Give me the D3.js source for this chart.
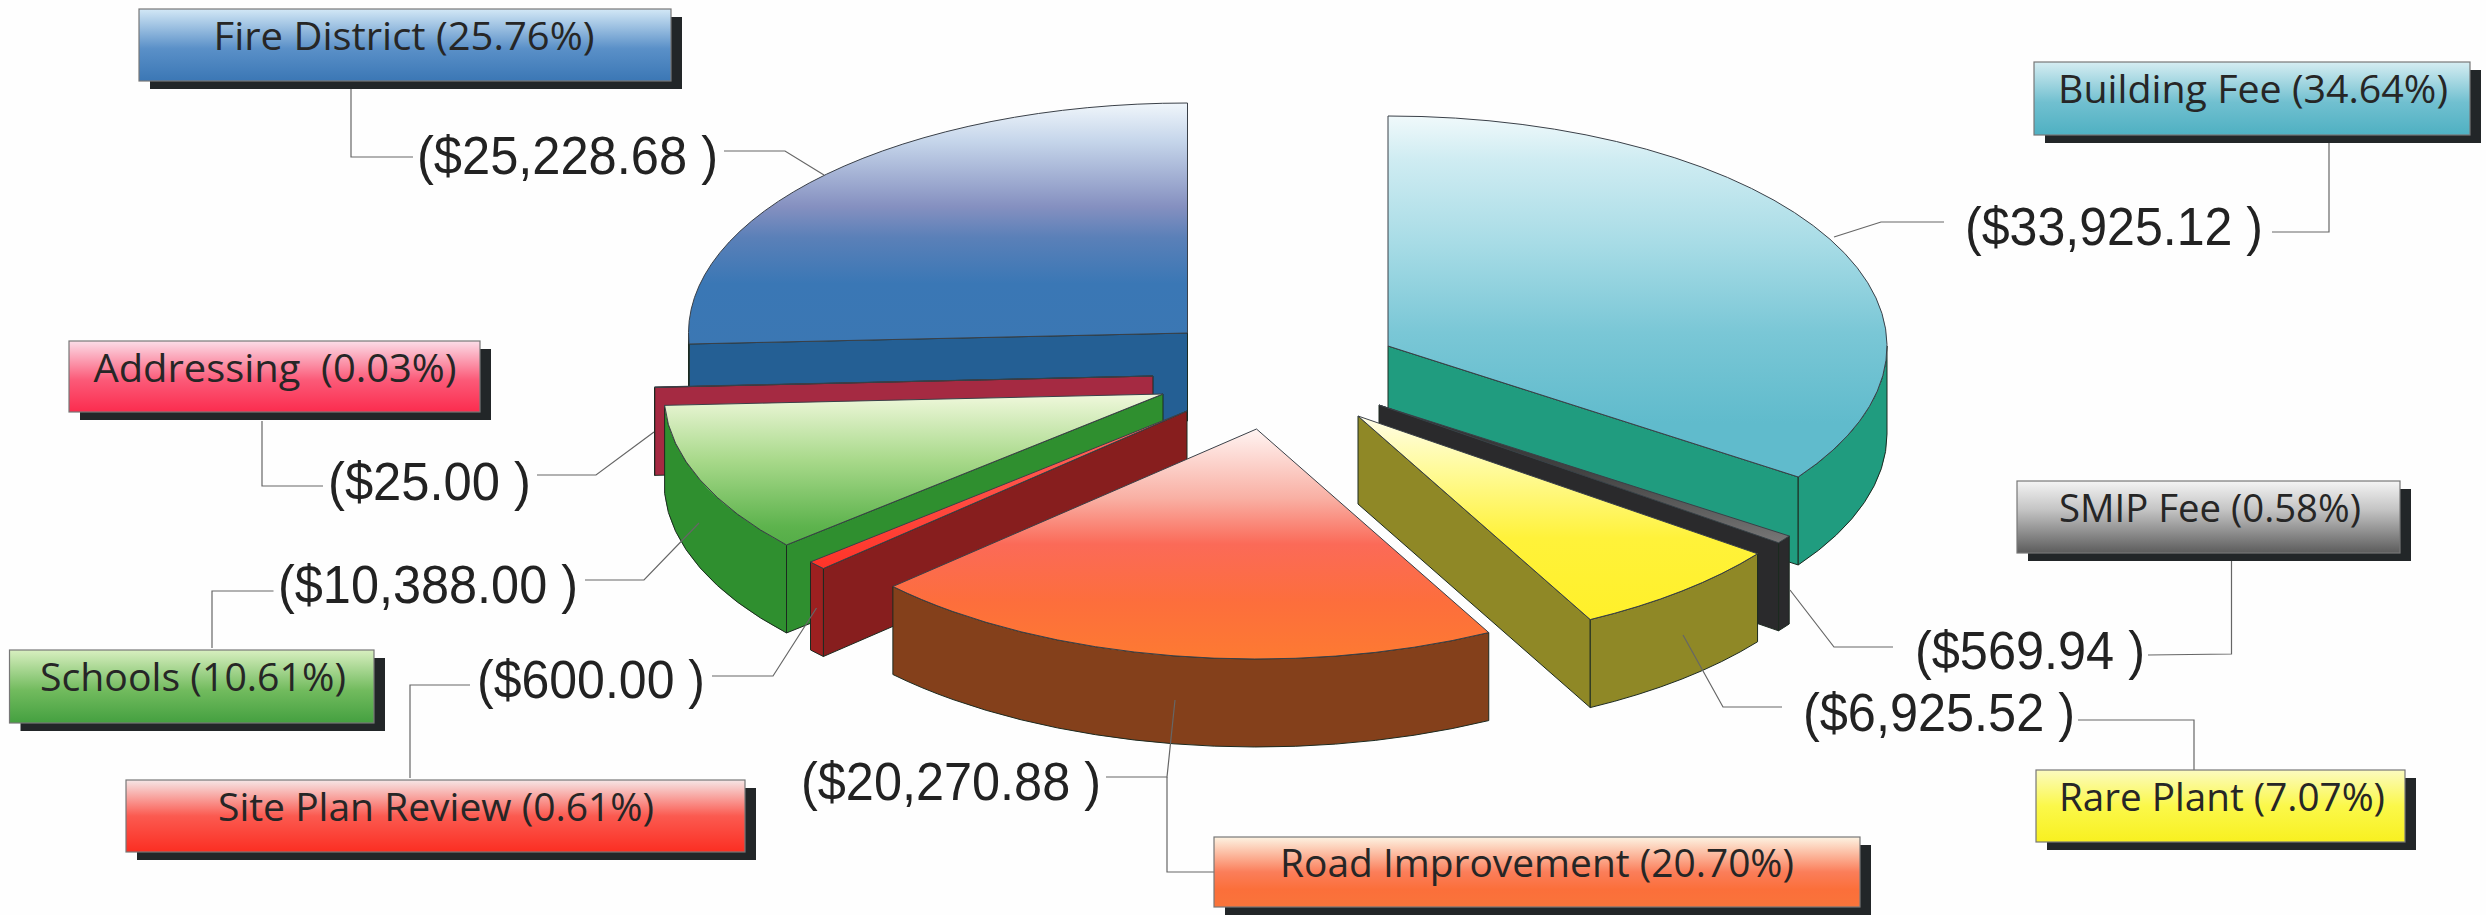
<!DOCTYPE html>
<html>
<head>
<meta charset="utf-8">
<script src="https://cdn.jsdelivr.net/npm/d3@7"></script>
<style>
  html, body { margin: 0; padding: 0; background: #fefefe; overflow: hidden; }
  text { white-space: pre; }
</style>
</head>
<body>
<div id="chart"></div>
<script>
// values, clockwise from 12 o'clock
const categories = ['Building Fee', 'SMIP Fee', 'Rare Plant', 'Road Improvement', 'Site Plan Review', 'Schools', 'Addressing ', 'Fire District'];
const amounts = [33925.12, 569.94, 6925.52, 20270.88, 600.0, 10388.0, 25.0, 25228.68];
const percents = [34.64, 0.58, 7.07, 20.7, 0.61, 10.61, 0.03, 25.76];

// layout only, same order as categories
const centers = [[1388, 346], [1379, 405], [1358, 416], [1256.5, 429], [1187, 411], [1163, 394], [1153, 376], [1187.5, 333]];
const boxes = [[2034, 62, 436, 73], [2017, 481, 383, 72], [2036, 770, 369, 72], [1214, 837, 646, 70], [126, 780, 619, 72], [9.5, 650, 364.5, 73], [69, 341, 411, 71], [139, 9, 532, 72]];
const boxTextPos = [[2253, 103, 390], [2210, 522, 302], [2222, 811, 326], [1537, 877, 514], [436, 821, 436], [193, 691, 306], [275, 382, 363], [404, 50, 381]];
const valueTextPos = [[1965, 245, 298], [1915, 669, 230], [1803, 731, 272], [801, 800, 300], [477, 698, 228], [278, 603, 300], [328, 500, 203], [417, 174, 301]];
const leaders = [
  [[[1944, 222], [1881, 222], [1834, 237]], [[2272, 232], [2329, 232], [2329, 143]]],
  [[[1893, 647], [1834, 647], [1790, 590]], [[2148, 655], [2231.5, 654], [2231.5, 561]]],
  [[[1782, 707], [1723, 707], [1683, 635]], [[2078, 720], [2194, 720], [2194, 770]]],
  [[[1106, 777], [1167, 777], [1175, 700]], [[1167, 777], [1167, 872], [1214, 872]]],
  [[[712, 676], [773, 676], [816.5, 608]], [[470, 685], [410, 685], [410, 778]]],
  [[[585, 580], [644, 580], [699, 523]], [[273.5, 591], [212, 591], [212, 648]]],
  [[[537, 475], [596, 475], [654, 432]], [[323, 486], [262, 486], [262, 421]]],
  [[[724, 151], [785, 151], [824, 175]], [[413, 157], [351, 157], [351, 89]]],
];

// styles
const topStops = [
  [[0, '#f0f9fb'], [0.12, '#cfecf2'], [0.35, '#a8dce6'], [0.6, '#7ac7d6'], [0.85, '#60bbcc'], [1, '#60bbcc']],
  [[0, '#2a2a2a'], [0.5, '#444'], [1, '#777']],
  [[0, '#fffde8'], [0.25, '#fffb9e'], [0.6, '#fff23a'], [1, '#fff02a']],
  [[0, '#fff4f2'], [0.3, '#f9b0a4'], [0.5, '#fb6a58'], [0.75, '#fd6e3c'], [1, '#fd7a32']],
  [[0, '#ff6a60'], [1, '#ff3328']],
  [[0, '#f0f8dc'], [0.44, '#a8d98a'], [0.88, '#5db34d'], [1, '#55ad48']],
  [[0, '#c0304a'], [1, '#c0304a']],
  [[0, '#f0f6fb'], [0.16, '#c5d5ea'], [0.43, '#8590c0'], [0.56, '#5a80b8'], [0.75, '#3a77b5'], [1, '#3b77b3']],
];
const sideColors = ['#209c7f', '#2a2a2c', '#8f8826', '#84401b', '#9c2020', '#2f8f2f', '#a52a42', '#245f94'];
const cutColors = ['#209c7f', '#2a2a2c', '#8f8826', '#84401b', '#871e1e', '#2f8f2f', '#a52a42', '#245f94'];
const boxStops = [
  [[0, '#d6edf2'], [0.55, '#71c0d0'], [1, '#4fb0c2']],
  [[0, '#f4f4f4'], [0.4, '#c4c4c4'], [1, '#5c5c5c']],
  [[0, '#fbfbc0'], [0.5, '#fbf84a'], [1, '#f8f020']],
  [[0, '#fdf3e2'], [0.5, '#fb7e5a'], [0.75, '#fb6f3a'], [1, '#f9743a']],
  [[0, '#f6e6e6'], [0.5, '#fb5a50'], [1, '#fb2e22']],
  [[0, '#d8efc0'], [0.55, '#72bb5e'], [1, '#44a040']],
  [[0, '#fbdde8'], [0.55, '#fb5a78'], [1, '#fb2c4e']],
  [[0, '#d3e8f6'], [0.55, '#5a90c8'], [1, '#3b77b5']],
];

const width = 2486;
const height = 915;
const rx = 499;
const ry = 230;
const depth = 88;

const arcs = d3.pie().sort(null).value(d => d)(amounts);

const svg = d3
  .select('#chart')
  .append('svg')
  .attr('width', width)
  .attr('height', height)
  .style('display', 'block');

const defs = svg.append('defs');

function addGradient(id, stops) {
  const grad = defs
    .append('linearGradient')
    .attr('id', id)
    .attr('x1', 0)
    .attr('y1', 0)
    .attr('x2', 0)
    .attr('y2', 1);
  stops.forEach(s => grad.append('stop').attr('offset', s[0]).attr('stop-color', s[1]));
}

topStops.forEach((s, i) => addGradient(`top-${i}`, s));
boxStops.forEach((s, i) => addGradient(`box-${i}`, s));

function rim(i, angle) {
  const [cx, cy] = centers[i];
  return [cx + rx * Math.sin(angle), cy - ry * Math.cos(angle)];
}

function cutFace(i, angle) {
  const [cx, cy] = centers[i];
  const p = rim(i, angle);
  return `M${cx},${cy}L${p[0]},${p[1]}L${p[0]},${p[1] + depth}L${cx},${cy + depth}Z`;
}

function outerFace(i, a0, a1) {
  const p0 = rim(i, a0);
  const p1 = rim(i, a1);
  return `M${p0[0]},${p0[1]}A${rx},${ry} 0 0 1 ${p1[0]},${p1[1]}L${p1[0]},${p1[1] + depth}A${rx},${ry} 0 0 0 ${p0[0]},${p0[1] + depth}Z`;
}

function topFace(i, a0, a1) {
  const [cx, cy] = centers[i];
  const p0 = rim(i, a0);
  const p1 = rim(i, a1);
  const large = a1 - a0 > Math.PI ? 1 : 0;
  return `M${cx},${cy}L${p0[0]},${p0[1]}A${rx},${ry} 0 ${large} 1 ${p1[0]},${p1[1]}Z`;
}

// painter's order, back slices first
const drawOrder = [7, 0, 6, 5, 1, 2, 4, 3];
const pieGroup = svg.append('g').attr('stroke-linejoin', 'round');

drawOrder.forEach(i => {
  const { startAngle: a0, endAngle: a1 } = arcs[i];
  const g = pieGroup.append('g').attr('class', 'slice');

  // only the cut face turned toward the viewer gets drawn
  const cutAngle = a0 > Math.PI ? a0 : a1 < Math.PI ? a1 : null;
  if (cutAngle !== null) {
    g.append('path')
      .attr('d', cutFace(i, cutAngle))
      .attr('fill', cutColors[i])
      .attr('stroke', '#1c2a20')
      .attr('stroke-width', 1);
  }

  const s0 = Math.max(a0, Math.PI / 2);
  const s1 = Math.min(a1, (3 * Math.PI) / 2);
  if (s1 > s0) {
    g.append('path')
      .attr('d', outerFace(i, s0, s1))
      .attr('fill', sideColors[i])
      .attr('stroke', '#1c2a20')
      .attr('stroke-width', 1);
  }

  g.append('path')
    .attr('d', topFace(i, a0, a1))
    .attr('fill', `url(#top-${i})`)
    .attr('stroke', '#3a4048')
    .attr('stroke-width', 1);
});

// leader lines
const lineGen = d3.line();
svg
  .append('g')
  .attr('fill', 'none')
  .attr('stroke', '#666')
  .attr('stroke-width', 1.2)
  .selectAll('path')
  .data(leaders.flat())
  .join('path')
  .attr('d', d => lineGen(d));

// amount labels
const money = d3.format('$,.2f');
svg
  .append('g')
  .selectAll('text')
  .data(amounts)
  .join('text')
  .attr('x', (d, i) => valueTextPos[i][0])
  .attr('y', (d, i) => valueTextPos[i][1])
  .attr('textLength', (d, i) => valueTextPos[i][2])
  .attr('lengthAdjust', 'spacingAndGlyphs')
  .attr('font-family', '"Liberation Sans", Arial, sans-serif')
  .attr('font-size', 53)
  .attr('fill', '#222')
  .text(d => `(${money(d)} )`);

// legend boxes with drop shadow
const boxGroups = svg
  .append('g')
  .selectAll('g')
  .data(categories)
  .join('g');

boxGroups
  .append('rect')
  .attr('x', (d, i) => boxes[i][0] + 11)
  .attr('y', (d, i) => boxes[i][1] + 8)
  .attr('width', (d, i) => boxes[i][2])
  .attr('height', (d, i) => boxes[i][3])
  .attr('fill', '#222628');

boxGroups
  .append('rect')
  .attr('x', (d, i) => boxes[i][0])
  .attr('y', (d, i) => boxes[i][1])
  .attr('width', (d, i) => boxes[i][2])
  .attr('height', (d, i) => boxes[i][3])
  .attr('fill', (d, i) => `url(#box-${i})`)
  .attr('stroke', '#777')
  .attr('stroke-width', 1.2);

boxGroups
  .append('text')
  .attr('x', (d, i) => boxTextPos[i][0])
  .attr('y', (d, i) => boxTextPos[i][1])
  .attr('text-anchor', 'middle')
  .attr('textLength', (d, i) => boxTextPos[i][2])
  .attr('lengthAdjust', 'spacingAndGlyphs')
  .attr('font-family', '"Open Sans", sans-serif')
  .attr('font-size', 39)
  .attr('fill', '#262626')
  .text((d, i) => `${d} (${percents[i].toFixed(2)}%)`);
</script>
</body>
</html>
